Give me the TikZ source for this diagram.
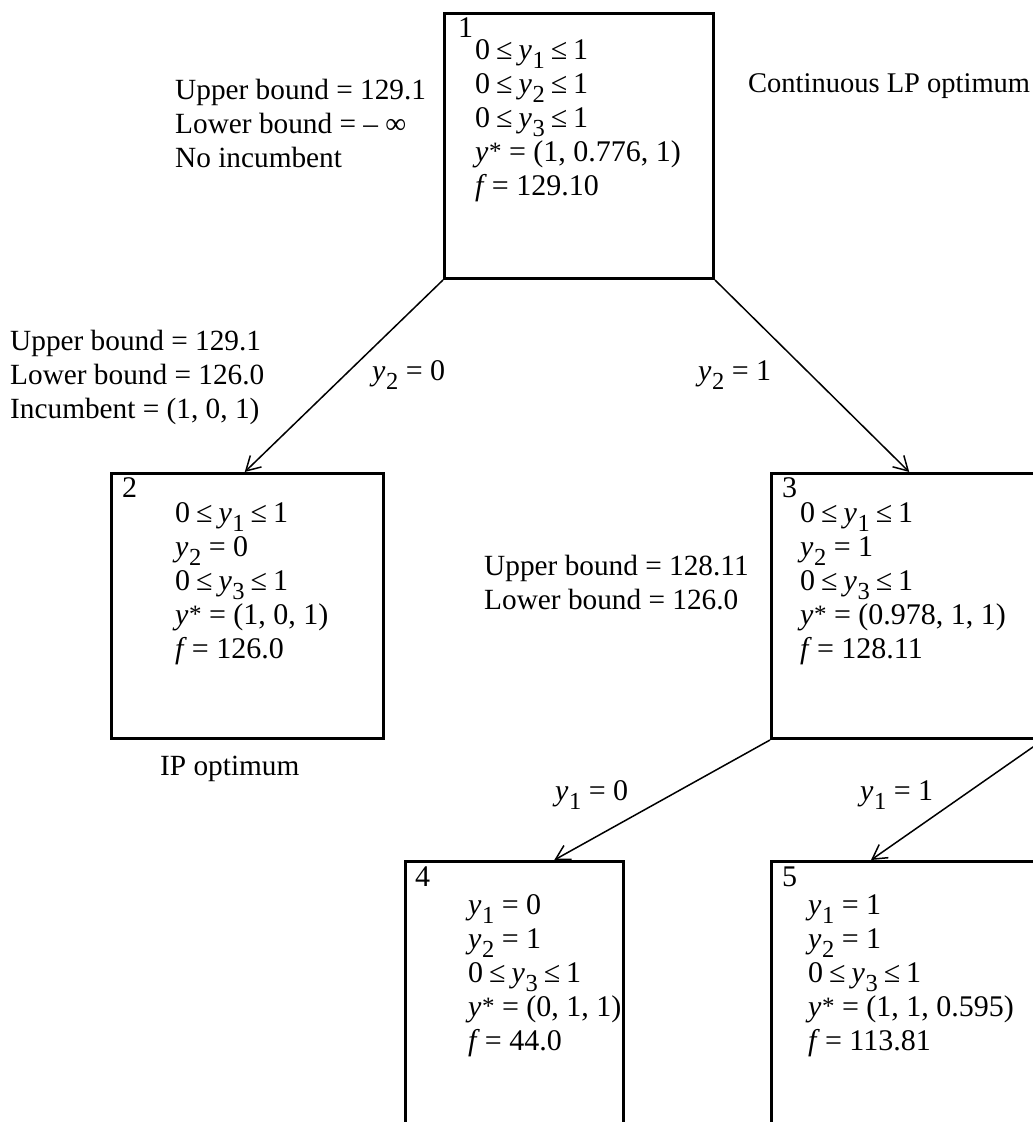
\documentclass[tikz,border=0pt]{standalone}
\usepackage{fontspec}
\setmainfont{Liberation Serif}
\usetikzlibrary{arrows.meta,calc}

\newcommand{\bnfont}{\fontsize{30}{34}\selectfont}
\newcommand{\lblfont}{\fontsize{29.3}{34}\selectfont}
\newcommand{\idxsz}{\fontsize{24.5}{25}\selectfont}
\newcommand{\yy}[1]{\textit{y}\kern0.5pt\raisebox{-9pt}{\idxsz #1}}
\newcommand{\ys}{\textit{y}\kern0.5pt\raisebox{2pt}{\fontsize{25}{25}\selectfont *}}
\newcommand{\ff}{\textit{f}\,=}
\newcommand{\lek}{\kern6pt≤\kern6pt}

\begin{document}
\begin{tikzpicture}[x=1pt, y=-1pt,
    bnbox/.style={rectangle, draw, line width=3pt, anchor=north west,
                  minimum height=265pt, inner sep=0pt},
    bnnum/.style={anchor=base west, font=\bnfont, inner sep=0pt},
    bnrows/.style={anchor=base west, font=\bnfont, inner sep=0pt},
    txt/.style={anchor=base west, font=\lblfont, inner sep=0pt},
    arrow/.style={-{Straight Barb[length=14pt, width=16pt]}, line width=1.5pt}
]
    \useasboundingbox (0,0) rectangle (1033,1122);

    % the five subproblems
    \node[bnbox, minimum width=269pt] (b1) at (443,12)  {};
    \node[bnbox, minimum width=272pt] (b2) at (110,472) {};
    \node[bnbox, minimum width=270pt] (b3) at (770,472) {};
    \node[bnbox, minimum width=218pt, minimum height=275pt] (b4) at (404,860) {};
    \node[bnbox, minimum width=270pt, minimum height=275pt] (b5) at (770,860) {};

    \node[bnnum] (n1) at (458,37)  {1};
    \node[bnnum] (n2) at (122,497) {2};
    \node[bnnum] (n3) at (782,497) {3};
    \node[bnnum] (n4) at (415,886) {4};
    \node[bnnum] (n5) at (782,886) {5};

    \node[bnrows] (r1) at (475,59) {\begin{tabular}[t]{@{}l@{}}
        0\lek\yy{1}\lek1\\ 0\lek\yy{2}\lek1\\ 0\lek\yy{3}\lek1\\
        \ys{} = (1, 0.776, 1)\\ \ff{} 129.10\end{tabular}};
    \node[bnrows] (r2) at (175,522) {\begin{tabular}[t]{@{}l@{}}
        0\lek\yy{1}\lek1\\ \yy{2} = 0\\ 0\lek\yy{3}\lek1\\
        \ys{} = (1, 0, 1)\\ \ff{} 126.0\end{tabular}};
    \node[bnrows] (r3) at (800,522) {\begin{tabular}[t]{@{}l@{}}
        0\lek\yy{1}\lek1\\ \yy{2} = 1\\ 0\lek\yy{3}\lek1\\
        \ys{} = (0.978, 1, 1)\\ \ff{} 128.11\end{tabular}};
    \node[bnrows] (r4) at (468,914) {\begin{tabular}[t]{@{}l@{}}
        \yy{1} = 0\\ \yy{2} = 1\\ 0\lek\yy{3}\lek1\\
        \ys{} = (0, 1, 1)\\ \ff{} 44.0\end{tabular}};
    \node[bnrows] (r5) at (808,914) {\begin{tabular}[t]{@{}l@{}}
        \yy{1} = 1\\ \yy{2} = 1\\ 0\lek\yy{3}\lek1\\
        \ys{} = (1, 1, 0.595)\\ \ff{} 113.81\end{tabular}};

    % bounds and remarks
    \node[txt] (bd1) at (175,99) {\begin{tabular}[t]{@{}l@{}}
        Upper bound = 129.1\\ Lower bound = – ∞\\ No incumbent\end{tabular}};
    \node[txt, font=\fontsize{28.5}{34}\selectfont] (lpopt) at (748,92) {Continuous LP optimum};
    \node[txt] (bd2) at (10,350) {\begin{tabular}[t]{@{}l@{}}
        Upper bound = 129.1\\ Lower bound = 126.0\\ Incumbent = (1, 0, 1)\end{tabular}};
    \node[txt] (bd3) at (484,575) {\begin{tabular}[t]{@{}l@{}}
        Upper bound = 128.11\\ Lower bound = 126.0\end{tabular}};
    \node[txt] (ipopt) at (160,775) {IP optimum};

    % branches
    \coordinate (t2) at ($(b2.north west)!0.49!(b2.north east)$);
    \coordinate (t3) at ($(b3.north west)!0.51!(b3.north east)$);
    \coordinate (t4) at ($(b4.north west)!0.68!(b4.north east)$);
    \coordinate (t5) at ($(b5.north west)!0.37!(b5.north east)$);

    \draw[arrow] (b1.south west) -- (t2);
    \draw[arrow] (b1.south east) -- (t3);
    \draw[arrow] (b3.south west) -- (t4);
    \draw[arrow] (b3.south east) -- (t5);

    \node[txt, font=\bnfont] (e12) at (372,380) {\yy{2} = 0};
    \node[txt, font=\bnfont] (e13) at (698,380) {\yy{2} = 1};
    \node[txt, font=\bnfont] (e34) at (555,800) {\yy{1} = 0};
    \node[txt, font=\bnfont] (e35) at (860,800) {\yy{1} = 1};
\end{tikzpicture}
\end{document}
